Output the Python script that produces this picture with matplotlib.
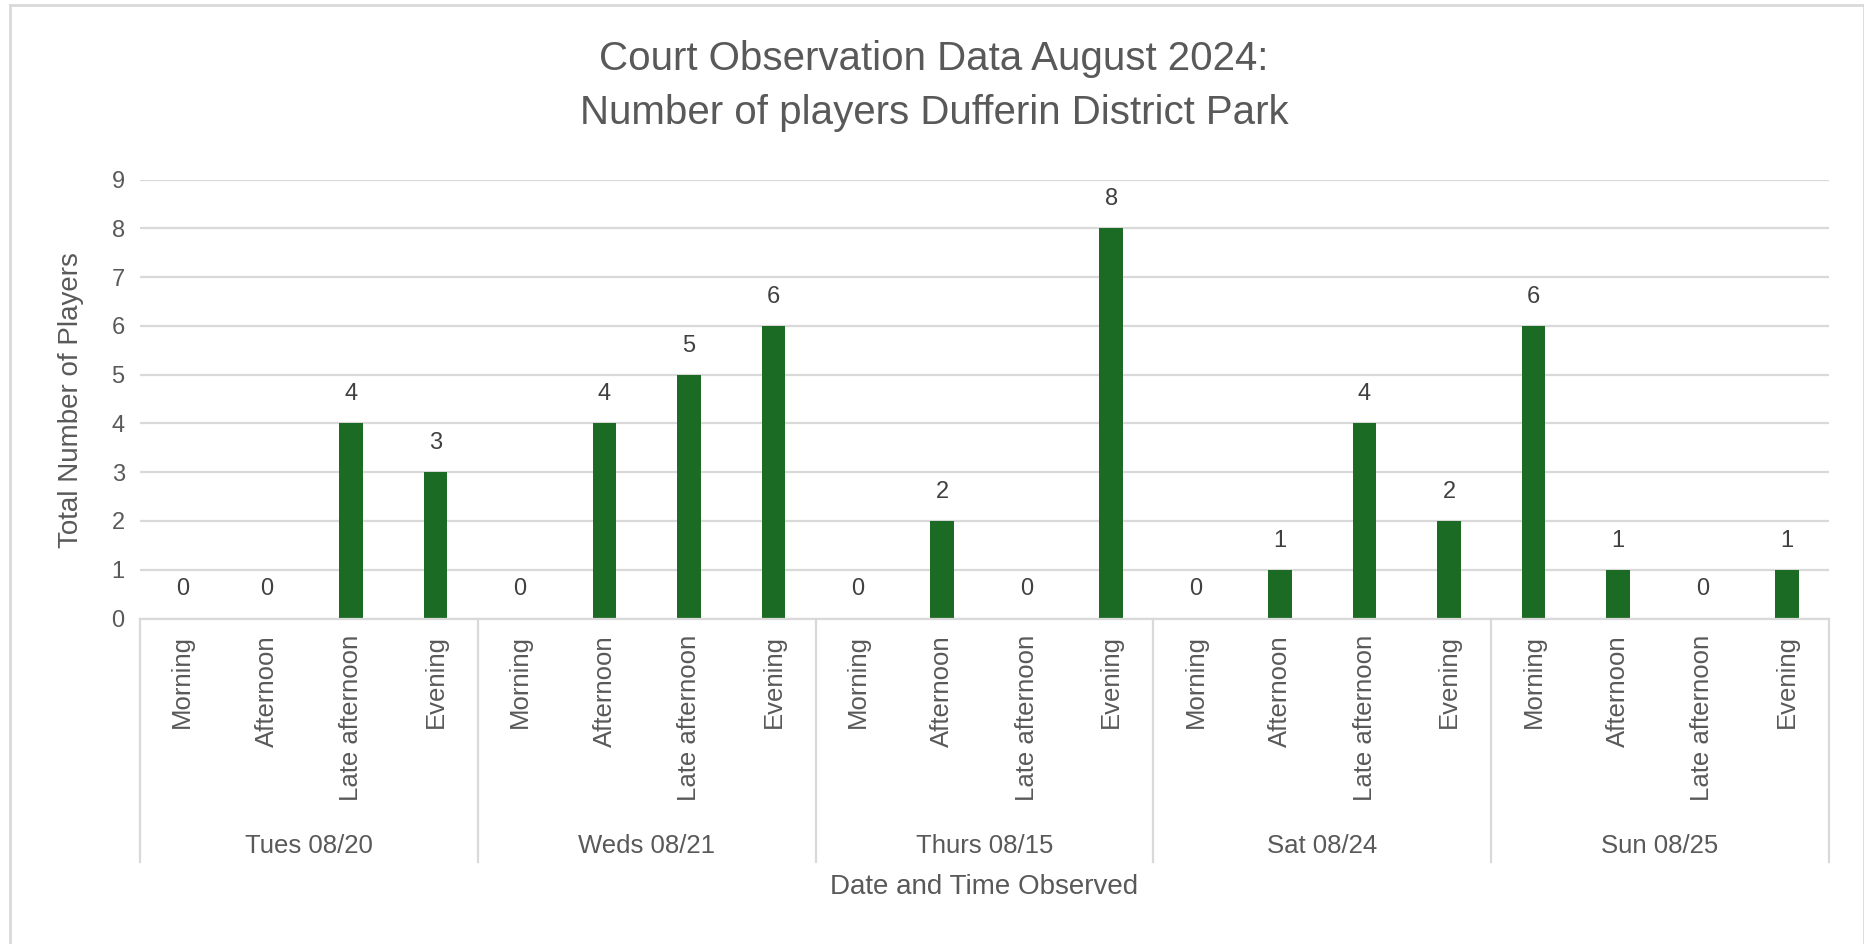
import matplotlib
matplotlib.use("Agg")
import matplotlib.pyplot as plt
from matplotlib import font_manager
import matplotlib.transforms as mtransforms
from matplotlib.lines import Line2D
import numpy as np

# ---- data ----
groups = ["Tues 08/20", "Weds 08/21", "Thurs 08/15", "Sat 08/24", "Sun 08/25"]
times = ["Morning", "Afternoon", "Late afternoon", "Evening"]
values = [0, 0, 4, 3,
          0, 4, 5, 6,
          0, 2, 0, 8,
          0, 1, 4, 2,
          6, 1, 0, 1]
y_ticks = [0, 1, 2, 3, 4, 5, 6, 7, 8, 9]
title = "Court Observation Data August 2024:\nNumber of players Dufferin District Park"
y_label = "Total Number of Players"
x_label = "Date and Time Observed"

names = {f.name for f in font_manager.fontManager.ttflist}
base_font = "Liberation Sans" if "Liberation Sans" in names else "DejaVu Sans"
title_font = "Liberation Sans Narrow" if "Liberation Sans Narrow" in names else base_font
plt.rcParams["font.family"] = [base_font, "DejaVu Sans"]

text_col = "#595959"
label_col = "#404040"
grid_col = "#d9d9d9"
bar_col = "#1c6b25"

W, H = 1865, 944
fig = plt.figure(figsize=(W / 100, H / 100), dpi=100)
fig.patch.set_facecolor("white")

left, right = 140 / W, 1829 / W
top_px, bot_px = 179.6, 618.5
ax = fig.add_axes([left, 1 - bot_px / H, right - left, (bot_px - top_px) / H])

n = len(values)
x = np.arange(n)
ax.bar(x, values, width=0.28, color=bar_col, zorder=3)
ax.set_xlim(-0.5, n - 0.5)
ax.set_ylim(0, 9)
ax.set_yticks(y_ticks)
ax.set_yticklabels([str(v) for v in y_ticks], fontsize=17, color=text_col)
ax.tick_params(axis="y", length=0, pad=11)
ax.yaxis.grid(True, color=grid_col, linewidth=1.6, zorder=0)
for s in ["top", "right", "left"]:
    ax.spines[s].set_visible(False)
ax.spines["bottom"].set_color(grid_col)
ax.spines["bottom"].set_linewidth(1.6)
ax.spines["bottom"].set_zorder(4)

ax.set_xticks(x)
ax.set_xticklabels([times[i % 4] for i in range(n)], rotation=90,
                   fontsize=18.5, color=text_col)
ax.tick_params(axis="x", length=0, pad=12)

# data labels
for xi, v in zip(x, values):
    ax.annotate(str(v), (xi, v), xytext=(0, 21), textcoords="offset points",
                ha="center", va="center", fontsize=17, color=label_col)

# group separators and labels
trans = mtransforms.blended_transform_factory(ax.transData, ax.transAxes)
sep_bottom = -(862 - bot_px) / (bot_px - top_px)
for g in range(len(groups) + 1):
    xs = g * 4 - 0.5
    ax.add_line(Line2D([xs, xs], [0, sep_bottom], transform=trans,
                       color=grid_col, linewidth=1.6, clip_on=False))
grp_y = -(846 - bot_px) / (bot_px - top_px)
for g, name in enumerate(groups):
    ax.text(g * 4 + 1.5, grp_y, name, transform=trans, ha="center", va="center",
            fontsize=18.5, color=text_col)

fig.text((left + right) / 2, 1 - 887 / H, x_label, ha="center", va="center",
         fontsize=20, color=text_col)
fig.text(71 / W, 1 - 400 / H, y_label, ha="center", va="center",
         rotation=90, fontsize=20, color=text_col)

fig.text(934 / W, 1 - 86 / H, title, ha="center", va="center",
         fontsize=29, color=text_col, family=[title_font, "DejaVu Sans"],
         linespacing=1.55)

# outer border
fig.add_artist(Line2D([10 / W, 10 / W], [0, 1 - 5 / H], transform=fig.transFigure,
                      color=grid_col, linewidth=2))
fig.add_artist(Line2D([10 / W, 1864 / W], [1 - 5 / H, 1 - 5 / H], transform=fig.transFigure,
                      color=grid_col, linewidth=2))
fig.add_artist(Line2D([1864 / W, 1864 / W], [0, 1 - 5 / H], transform=fig.transFigure,
                      color=grid_col, linewidth=2))

fig.savefig("out.png", dpi=100)
